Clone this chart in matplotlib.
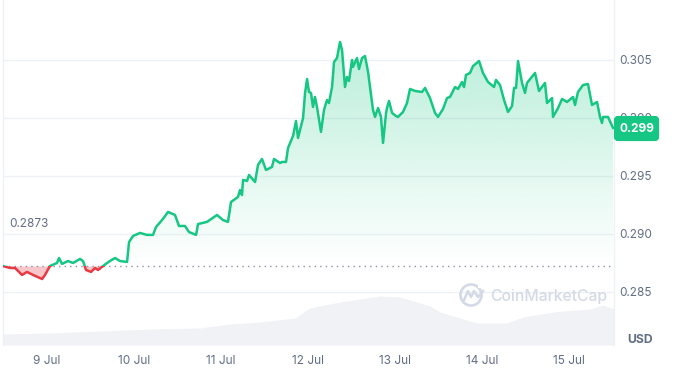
import numpy as np
import matplotlib
matplotlib.use("Agg")
import matplotlib.pyplot as plt
from matplotlib.patches import FancyBboxPatch, Circle, Polygon, Rectangle

plt.rcParams['font.family'] = ['Inter', 'DejaVu Sans']

days = [-0.506,-0.425,-0.368,-0.287,-0.230,-0.161,-0.057,-0.023,0.034,0.115,0.138,0.172,0.241,0.299,0.379,0.414,0.448,0.506,0.552,0.586,0.644,0.690,0.724,0.782,0.839,0.920,0.943,0.989,1.069,1.149,1.218,1.253,1.333,1.391,1.471,1.517,1.586,1.632,1.713,1.736,1.839,1.954,2.023,2.080,2.115,2.195,2.218,2.241,2.253,2.299,2.322,2.391,2.425,2.471,2.517,2.586,2.609,2.678,2.701,2.747,2.770,2.828,2.862,2.885,2.943,2.966,2.989,3.011,3.034,3.057,3.080,3.103,3.149,3.184,3.218,3.241,3.276,3.299,3.333,3.368,3.391,3.425,3.448,3.471,3.506,3.517,3.563,3.586,3.621,3.655,3.690,3.713,3.747,3.770,3.805,3.839,3.862,3.897,3.908,3.931,3.966,4.011,4.034,4.092,4.138,4.172,4.230,4.310,4.345,4.402,4.460,4.494,4.552,4.598,4.632,4.690,4.724,4.770,4.793,4.816,4.862,4.897,4.966,5.011,5.069,5.138,5.161,5.207,5.253,5.299,5.345,5.368,5.391,5.414,5.460,5.494,5.517,5.609,5.655,5.724,5.747,5.805,5.816,5.874,5.920,5.977,6.046,6.069,6.103,6.161,6.218,6.264,6.322,6.356,6.379,6.391,6.448,6.506]
prices = [.28724,.28707,.28707,.28647,.28673,.28647,.28612,.28647,.28724,.2875,.28793,.28742,.28767,.2875,.28785,.28767,.2869,.28673,.28707,.2869,.28724,.2875,.28767,.28793,.28767,.28759,.28931,.28983,.29009,.28992,.28992,.2906,.2913,.2919,.29164,.29069,.29069,.29017,.28992,.29086,.29104,.29164,.2912,.29104,.29276,.29319,.29379,.29336,.29466,.29457,.29509,.29448,.29595,.29647,.29552,.29578,.29647,.29612,.29621,.29621,.29741,.29845,.29974,.29828,.3,.30216,.30336,.30224,.30216,.30095,.30181,.30095,.2988,.30069,.30155,.30129,.30267,.30483,.30517,.30655,.30586,.30267,.30353,.30319,.305,.3044,.30517,.30422,.30517,.30534,.30397,.30267,.30069,.30009,.30086,.30009,.29785,.30043,.30086,.30147,.30043,.30017,.30009,.30052,.30129,.3025,.30233,.30224,.30259,.30172,.30043,.30009,.30078,.30172,.30181,.30267,.3025,.3031,.30267,.30371,.30388,.30448,.30491,.30388,.3031,.30267,.30328,.30284,.30155,.30052,.30103,.30259,.30259,.30491,.30302,.30216,.30302,.30388,.30233,.30302,.30129,.30172,.30009,.30086,.30164,.30138,.30181,.30112,.30224,.30284,.30293,.30112,.30138,.30009,.29957,.30009,.30009,.29914]

vol_days = [-0.506,0.034,0.609,1.184,1.759,2.103,2.448,2.851,3.023,3.368,3.828,4.057,4.402,4.517,4.747,4.943,5.287,5.471,5.862,6.241,6.391,6.517]
volumes = [11,12,14,16,17,21,23,27,37,43,49,48,39,33,27,22,22,28,33.5,36,40,36]

baseline = 0.2872
baseline_label = "0.2873"
last_label = "0.299"
y_ticks = [0.285, 0.290, 0.295, 0.300, 0.305]
y_labels = ["0.285", "0.290", "0.295", "0.300", "0.305"]
x_ticks = [0, 1, 2, 3, 4, 5, 6]
x_labels = ["9 Jul", "10 Jul", "11 Jul", "12 Jul", "13 Jul", "14 Jul", "15 Jul"]

GREEN = "#16c784"
RED = "#ea3943"
GRID = "#eff2f5"
VOL = "#f0f2f6"
TEXT = "#616e85"

W, H = 678, 371
fig = plt.figure(figsize=(W/100, H/100), dpi=100, facecolor="white")
rect = [3/W, (H-345)/H, 611/W, 345/H]

axv = fig.add_axes(rect, facecolor="none", zorder=1)
axv.fill_between(vol_days, 0, volumes, color=VOL, lw=0)
axv.set_xlim(-0.506, 6.517)
axv.set_ylim(0, 345)
axv.axis("off")

ax = fig.add_axes(rect, facecolor="none", zorder=2)
xlim = (-0.506, 6.517)
ylim = (0.28043, 0.31017)
ax.set_xlim(*xlim)
ax.set_ylim(*ylim)

for s in ("top", "bottom"):
    ax.spines[s].set_visible(False)
for s in ("left", "right"):
    ax.spines[s].set_color(GRID)
    ax.spines[s].set_linewidth(1)

ax.yaxis.tick_right()
ax.set_yticks(y_ticks, y_labels)
ax.set_xticks(x_ticks, x_labels)
ax.tick_params(axis="y", length=0, pad=4, labelsize=8.5, labelcolor=TEXT)
ax.tick_params(axis="x", length=0, pad=7.5, labelsize=8.5, labelcolor=TEXT)
ax.grid(axis="y", color=GRID, lw=1)
ax.set_axisbelow(True)

x = np.array(days)
y = np.array(prices)

top = max(prices)
grad = np.zeros((256, 1, 4))
grad[..., :3] = matplotlib.colors.to_rgb(GREEN)
grad[..., 3] = np.linspace(0.30, 0.0, 256)[:, None]
im = ax.imshow(grad, extent=(xlim[0], xlim[1], baseline, top), aspect="auto",
               origin="upper", zorder=1.2, interpolation="bilinear")
ax.set_xlim(*xlim)
ax.set_ylim(*ylim)
poly = Polygon(np.column_stack([np.r_[x[0], x, x[-1]], np.r_[baseline, np.maximum(y, baseline), baseline]]),
               closed=True, transform=ax.transData)
im.set_clip_path(poly)

ax.fill_between(x, baseline, y, where=y <= baseline, interpolate=True,
                color=RED, alpha=0.28, lw=0, zorder=1.3)

ax.axhline(baseline, color="#8a93a6", lw=1, ls=(0, (1, 3)), zorder=1.5)

up, = ax.plot(x, y, color=GREEN, lw=1.8, zorder=3, solid_joinstyle="round")
down, = ax.plot(x, y, color=RED, lw=1.8, zorder=3, solid_joinstyle="round")
up.set_clip_path(Rectangle((xlim[0], baseline), xlim[1]-xlim[0], ylim[1]-baseline, transform=ax.transData))
down.set_clip_path(Rectangle((xlim[0], ylim[0]), xlim[1]-xlim[0], baseline-ylim[0], transform=ax.transData))

ov = fig.add_axes([0, 0, 1, 1], facecolor="none", zorder=3)
ov.set_xlim(0, W)
ov.set_ylim(H, 0)
ov.axis("off")

ov.text(9, 224, baseline_label, fontsize=8.5, color=TEXT, va="center", ha="left")
ov.text(627, 340, "USD", fontsize=8.8, color=TEXT, va="center", ha="left", fontweight="bold")

ov.add_patch(FancyBboxPatch((616, 118), 41, 21, boxstyle="round,pad=0,rounding_size=2",
                            mutation_aspect=1, fc=GREEN, ec=GREEN, lw=3))
ov.text(620, 129, last_label, fontsize=8.6, color="white", fontweight="bold", va="center", ha="left")

WM = "#d3d9e5"
ov.add_patch(Circle((471, 295), 10.5, fill=False, ec=WM, lw=1.9))
ov.add_patch(Rectangle((478, 283), 6, 5, fc="white", ec="none"))
ov.plot([464, 468, 471, 474, 478, 483], [300, 291, 297, 291, 297, 291],
        color=WM, lw=1.8, solid_joinstyle="round")
ov.text(490, 296.5, "CoinMarketCap", fontsize=11.3, color=WM, fontweight="medium", va="center", ha="left")

fig.savefig("out.png", dpi=100)
